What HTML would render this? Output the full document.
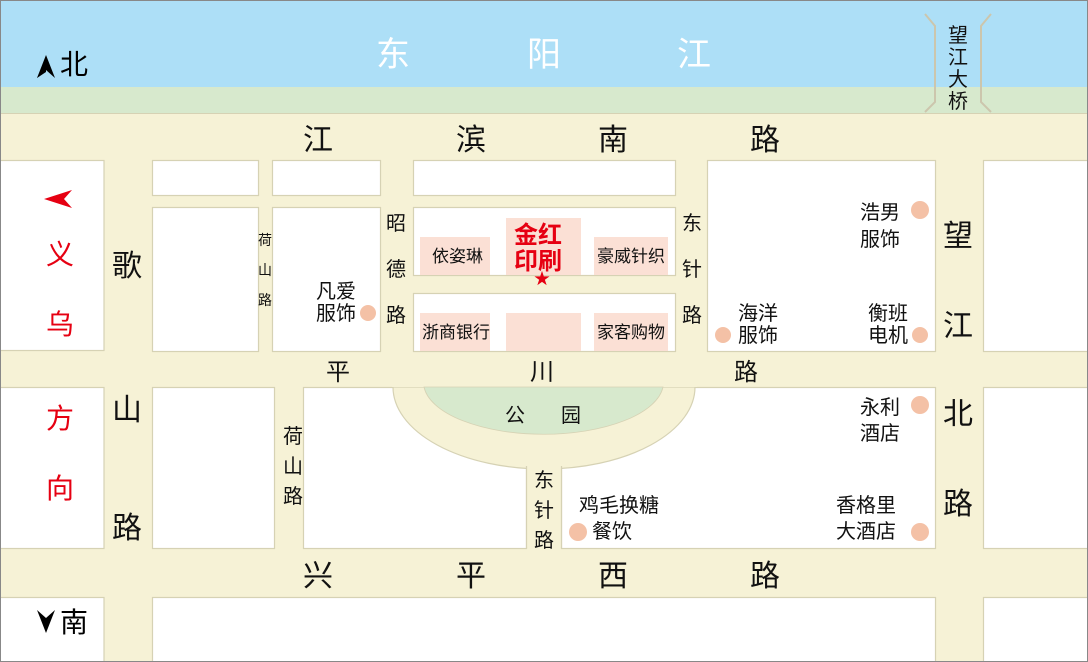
<!DOCTYPE html>
<html><head><meta charset="utf-8"><style>
html,body{margin:0;padding:0;}
svg{display:block;}
text{font-family:"Liberation Sans","Noto Sans CJK SC",sans-serif;}
</style></head><body>
<svg width="1088" height="662" viewBox="0 0 1088 662" xmlns="http://www.w3.org/2000/svg">
<rect x="0" y="0" width="1088" height="662" fill="#f6f2d6"/>
<rect x="0" y="0" width="1088" height="87" fill="#addff7"/>
<rect x="0" y="87" width="1088" height="26" fill="#d7e9cd"/>
<line x1="0" y1="113.5" x2="1088" y2="113.5" stroke="#d6d2b4" stroke-width="1"/>
<g fill="#fff" stroke="#d6d2b4" stroke-width="1.2">
<rect x="-2" y="160.5" width="106" height="190"/>
<rect x="152.5" y="160.5" width="106" height="35"/>
<rect x="272.5" y="160.5" width="108" height="35"/>
<rect x="413.5" y="160.5" width="262" height="35"/>
<rect x="152.5" y="207.5" width="106" height="144"/>
<rect x="272.5" y="207.5" width="108" height="144"/>
<rect x="413.5" y="207.5" width="262" height="68"/>
<rect x="413.5" y="293.5" width="262" height="58"/>
<rect x="707.5" y="160.5" width="228" height="191"/>
<rect x="983.5" y="160.5" width="108" height="191"/>
<rect x="-2" y="387.5" width="106" height="161"/>
<rect x="152.5" y="387.5" width="122" height="161"/>
<rect x="303.5" y="387.5" width="223" height="161"/>
<rect x="561.5" y="387.5" width="374" height="161"/>
<rect x="983.5" y="387.5" width="108" height="161"/>
<rect x="-2" y="597.5" width="106" height="70"/>
<rect x="152.5" y="597.5" width="783" height="70"/>
<rect x="983.5" y="597.5" width="108" height="70"/>
</g>
<!-- curved road -->
<path d="M393 387 A151 82 0 0 0 695 387 Z" fill="#f6f2d6" stroke="#d6d2b4" stroke-width="1.2"/>
<rect x="392" y="370" width="305" height="17" fill="#f6f2d6"/>
<rect x="527" y="455" width="34" height="92" fill="#f6f2d6"/>
<line x1="526.5" y1="466" x2="526.5" y2="548" stroke="#d6d2b4" stroke-width="1.2"/>
<line x1="561.5" y1="466" x2="561.5" y2="548" stroke="#d6d2b4" stroke-width="1.2"/>
<path d="M424 387 A120 52 0 0 0 663 387 Z" fill="#d7e9cd" stroke="#d6d2b4" stroke-width="0.8"/>
<!-- pink boxes -->
<g fill="#fbe0d5">
<rect x="420" y="237" width="70" height="38"/>
<rect x="506" y="218" width="75" height="57"/>
<rect x="594" y="237" width="74" height="38"/>
<rect x="420" y="313" width="70" height="38"/>
<rect x="506" y="313" width="75" height="38"/>
<rect x="594" y="313" width="74" height="38"/>
</g>
<!-- bridge -->
<g fill="none" stroke="#ccc6ad" stroke-width="2">
<path d="M925 14 L935 26 L935 102 L925 112"/>
<path d="M991 14 L981 26 L981 102 L991 112"/>
</g>
<!-- river -->
<g fill="#fff" font-size="34">
<text x="376" y="66">东</text><text x="527" y="66">阳</text><text x="677" y="66">江</text>
</g>
<g font-size="20" fill="#111">
<text x="948" y="42">望</text><text x="948" y="64">江</text><text x="948" y="86">大</text><text x="948" y="108">桥</text>
</g>
<polygon points="46,63 37,78 46,72 46,78" fill="#000"/>
<polygon points="46,55 37,78 46,70 55,78" fill="#000"/>
<text x="60" y="74" font-size="28" fill="#000">北</text>
<polygon points="46,633 37,610 46,618 55,610" fill="#000"/>
<text x="60" y="632" font-size="28" fill="#000">南</text>
<polygon points="44,199 72,190 64,199 72,208" fill="#e60012"/>
<g font-size="28" fill="#e60012">
<text x="46" y="264">义</text><text x="46" y="334">乌</text>
<text x="46" y="428">方</text><text x="46" y="498">向</text>
</g>
<!-- main roads -->
<g font-size="30" fill="#111">
<text x="303" y="150">江</text><text x="456" y="150">滨</text><text x="598" y="150">南</text><text x="750" y="150">路</text>
<text x="112" y="276">歌</text><text x="112" y="420">山</text><text x="112" y="538">路</text>
<text x="943" y="246">望</text><text x="943" y="336">江</text><text x="943" y="424">北</text><text x="943" y="514">路</text>
<text x="303" y="586">兴</text><text x="456" y="586">平</text><text x="598" y="586">西</text><text x="750" y="586">路</text>
</g>
<g font-size="24" fill="#111">
<text x="326" y="380">平</text><text x="530" y="380">川</text><text x="734" y="380">路</text>
</g>
<g font-size="20" fill="#111">
<text x="386" y="230">昭</text><text x="386" y="276">德</text><text x="386" y="322">路</text>
<text x="682" y="230">东</text><text x="682" y="276">针</text><text x="682" y="322">路</text>
<text x="283" y="443">荷</text><text x="283" y="473">山</text><text x="283" y="503">路</text>
<text x="534" y="487">东</text><text x="534" y="517">针</text><text x="534" y="547">路</text>
<text x="505" y="422">公</text><text x="561" y="422">园</text>
</g>
<g font-size="14" fill="#111">
<text x="258" y="245">荷</text><text x="258" y="275">山</text><text x="258" y="305">路</text>
</g>
<g font-size="17" fill="#111">
<text x="432" y="262">依姿琳</text><text x="597" y="262">豪威针织</text>
<text x="422" y="338">浙商银行</text><text x="597" y="338">家客购物</text>
</g>
<g font-size="24" font-weight="bold" fill="#e60012">
<text x="514" y="243">金红</text><text x="514" y="269">印刷</text>
</g>
<text x="534" y="284" font-size="16" fill="#e60012">★</text>
<!-- shops -->
<g font-size="20" fill="#111">
<text x="316" y="298">凡爱</text><text x="316" y="320">服饰</text>
<text x="860" y="219">浩男</text><text x="860" y="246">服饰</text>
<text x="738" y="320">海洋</text><text x="738" y="342">服饰</text>
<text x="868" y="320">衡班</text><text x="868" y="342">电机</text>
<text x="860" y="414">永利</text><text x="860" y="440">酒店</text>
<text x="579" y="512">鸡毛换糖</text><text x="592" y="538">餐饮</text>
<text x="836" y="512">香格里</text><text x="836" y="538">大酒店</text>
</g>
<g fill="#f4c1a6">
<circle cx="368" cy="313" r="8"/>
<circle cx="920" cy="210" r="9"/>
<circle cx="723" cy="335" r="8"/>
<circle cx="920" cy="335" r="8"/>
<circle cx="920" cy="405" r="9"/>
<circle cx="578" cy="532" r="9"/>
<circle cx="920" cy="532" r="9"/>
</g>
<rect x="0.5" y="0.5" width="1087" height="661" fill="none" stroke="#888" stroke-width="1"/>
</svg>
</body></html>
